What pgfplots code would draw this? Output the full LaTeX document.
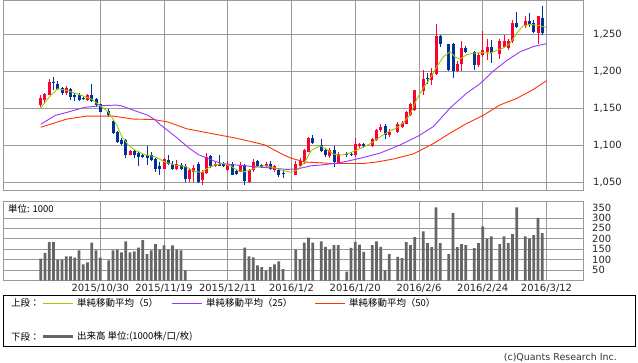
\documentclass[border=0pt]{standalone}
\usepackage{fontspec}
\setmainfont{DejaVu Sans}
\newfontfamily\jp{Noto Sans CJK JP}
\usepackage{pgfplots}
\pgfplotsset{compat=1.18}
\usepackage{pgfplotstable}

\definecolor{cred}{HTML}{FF0033}
\definecolor{cblue}{HTML}{003399}
\definecolor{maA}{HTML}{99CC00}
\definecolor{maB}{HTML}{9933FF}
\definecolor{maC}{HTML}{FF3300}
\definecolor{gridgray}{HTML}{999999}
\definecolor{volgray}{HTML}{666666}

\pgfplotstableread{
n o h l c
0 1154 1168 1152 1164
1 1161 1170 1156 1169
2 1168 1189 1167 1185
6 1170 1180 1168 1177
11 1161 1169 1159 1168
21 1087 1093 1086 1092
29 1068 1083 1067 1081
32 1068 1080 1066 1075
35 1054 1069 1050 1066
36 1063 1073 1050 1069
38 1053 1066 1046 1064
39 1062 1089 1061 1084
41 1071 1077 1070 1075
44 1066 1078 1065 1075
47 1064 1077 1063 1073
49 1050 1068 1049 1066
50 1066 1081 1064 1077
53 1071 1077 1069 1075
55 1066 1073 1064 1071
60 1060 1079 1059 1075
61 1072 1082 1070 1078
62 1077 1095 1074 1093
63 1091 1111 1090 1109
68 1085 1096 1083 1093
70 1076 1090 1075 1088
74 1086 1109 1084 1101
75 1098 1103 1096 1101
78 1098 1110 1097 1108
79 1107 1122 1106 1120
80 1120 1128 1118 1125
82 1113 1121 1111 1118
84 1118 1131 1116 1128
85 1124 1133 1123 1130
86 1129 1146 1128 1144
87 1141 1157 1139 1155
88 1147 1175 1146 1174
90 1173 1201 1168 1189
92 1188 1204 1181 1197
93 1196 1263 1195 1247
98 1200 1213 1198 1209
99 1209 1240 1200 1231
103 1208 1224 1206 1222
104 1222 1254 1219 1229
105 1226 1243 1215 1233
108 1223 1243 1216 1240
109 1233 1249 1231 1240
110 1231 1243 1229 1241
111 1240 1269 1238 1265
114 1261 1274 1258 1268
117 1251 1275 1237 1274
}\upcandles

\pgfplotstableread{
n o h l c
3 1185 1192 1174 1184
4 1183 1186 1174 1176
5 1177 1179 1168 1170
7 1176 1177 1161 1165
8 1167 1170 1159 1165
9 1168 1170 1159 1161
10 1164 1165 1161 1162
12 1167 1183 1158 1159
13 1162 1164 1152 1154
14 1155 1156 1144 1145
16 1146 1148 1138 1140
17 1132 1134 1115 1116
18 1117 1119 1103 1104
19 1107 1109 1100 1102
20 1107 1108 1082 1086
22 1092 1095 1082 1086
23 1089 1091 1072 1084
24 1087 1089 1082 1084
25 1087 1098 1073 1083
26 1087 1090 1078 1080
27 1081 1082 1064 1068
28 1071 1077 1060 1068
30 1080 1086 1073 1075
31 1075 1078 1066 1068
33 1073 1076 1066 1068
34 1072 1074 1050 1054
37 1075 1077 1048 1050
40 1085 1087 1069 1071
42 1074 1086 1071 1072
43 1075 1077 1070 1071
45 1075 1077 1059 1060
46 1065 1067 1060 1061
48 1073 1074 1046 1051
51 1078 1080 1070 1071
52 1073 1075 1069 1070
54 1075 1078 1066 1068
56 1066 1068 1057 1059
57 1062 1066 1056 1061
64 1109 1113 1102 1103
66 1100 1108 1091 1092
67 1093 1096 1084 1086
69 1093 1098 1070 1077
72 1088 1091 1084 1087
73 1088 1090 1085 1087
76 1101 1103 1096 1098
81 1126 1128 1108 1114
91 1190 1197 1183 1189
94 1247 1249 1233 1237
96 1236 1237 1200 1201
97 1236 1238 1191 1200
100 1231 1234 1224 1226
102 1226 1227 1201 1208
106 1233 1242 1211 1224
112 1265 1280 1258 1259
115 1268 1278 1260 1262
116 1265 1269 1251 1253
118 1271 1288 1249 1251
}\downcandles

\pgfplotstableread{
n v
0 105
1 132
2 184
3 184
4 100
5 100
6 116
7 116
8 110
9 145
10 77
11 87
12 181
13 145
14 110
16 97
17 145
18 148
19 135
20 187
21 135
22 140
23 158
24 194
25 126
26 145
27 174
28 148
29 168
30 148
31 168
32 148
33 145
34 48
48 158
49 116
50 111
51 73
52 64
53 48
54 64
55 77
56 92
57 55
60 148
61 102
62 181
63 205
64 181
66 188
67 161
68 147
69 169
70 169
72 42
73 156
74 185
75 172
76 137
78 169
79 188
80 161
81 50
82 126
84 113
85 107
86 184
87 169
88 208
90 236
91 179
92 160
93 351
94 179
96 126
97 323
98 160
99 174
100 169
102 155
103 179
104 260
105 201
106 211
108 174
109 212
110 179
111 222
112 351
114 212
115 201
116 217
117 300
118 227
}\volume

\begin{document}
\begin{tikzpicture}[x=1bp,y=1bp]
\useasboundingbox (0,0) rectangle (638,-362);

\pgfplotsset{
  candle wick/.style={draw=none, mark=none, forget plot,
    error bars/.cd, y dir=plus, y explicit, error mark=none,
    error bar style={draw=#1, line width=1bp}},
  candle body/.style={draw=none, mark=none, forget plot,
    error bars/.cd, y dir=plus, y explicit, error mark=none,
    error bar style={draw=#1, line width=3bp}},
}

% ---------------- price panel ----------------
\begin{axis}[
  at={(3bp,-0.7bp)}, anchor=north west, scale only axis,
  width=580bp, height=189.3bp,
  xmin=-8.882, xmax=127.588, ymin=1039.2, ymax=1295,
  axis line style={draw=gridgray, line width=0.8bp},
  xtick={14,29,...,119}, xticklabels={},
  ytick={1050,1100,...,1250},
  grid=major, major grid style={draw=gridgray, line width=0.8bp},
  major tick length=0pt,
  yticklabel pos=right,
  yticklabel style={anchor=west, inner sep=0pt, xshift=10bp, font=\fontsize{10}{12}\selectfont, text=black!85},
  /pgf/number format/.cd, 1000 sep={,}, assume math mode=true,
]
\addplot[candle wick=cred] table[x=n, y=l, y error expr=\thisrow{h}-\thisrow{l}] {\upcandles};
\addplot[candle body=cred] table[x=n, y=o, y error expr={max(\thisrow{c}-\thisrow{o},0.8)}] {\upcandles};
\addplot[candle wick=cblue] table[x=n, y=l, y error expr=\thisrow{h}-\thisrow{l}] {\downcandles};
\addplot[candle body=cblue] table[x=n, y=c, y error expr={max(\thisrow{o}-\thisrow{c},0.8)}] {\downcandles};

% 50-day moving average
\addplot[maC, line width=0.9bp, mark=none] coordinates {
(0,1124) (6.1,1135) (10.8,1139) (17.1,1139) (21.8,1135) (26.5,1134.5) (30,1131)
(34.3,1122) (40.6,1115) (45.3,1110) (50,1104) (52.8,1100) (54.7,1094) (57,1087)
(59,1082) (62.2,1077) (65.7,1076) (68.8,1075) (75.9,1075) (79,1077) (82.9,1081)
(87.7,1088) (92.4,1102) (96.3,1116) (100.2,1129) (104.1,1140) (108,1154)
(112,1163) (115.9,1175) (119,1187)};
% 25-day moving average
\addplot[maB, line width=0.9bp, mark=none] coordinates {
(0,1128) (3.4,1140) (6.1,1144) (10.4,1151) (14,1153) (17.7,1154) (19,1153)
(21.8,1147) (25.3,1140) (26.9,1134) (28,1128) (30,1119) (32,1110) (33.2,1104)
(35.1,1095) (37.1,1087) (41,1078) (42.6,1075) (46,1073) (50,1071) (54,1069)
(58,1067) (60.6,1068) (63.7,1072) (66,1073) (70.4,1076) (75.1,1082) (79.8,1089)
(84.5,1100) (88.8,1112) (92.4,1125) (96.3,1150) (100.2,1170) (103.4,1183)
(106.5,1200) (109.6,1214) (112.8,1226) (115.9,1233) (118.2,1236) (119,1237)};
% 5-day moving average
\addplot[maA, line width=0.9bp, mark=none] coordinates {
(0,1150) (2,1165) (4,1176) (6,1174) (9.6,1167) (12,1162) (14,1153) (16,1144)
(18,1126) (19,1112) (20.6,1100) (22.2,1093) (24.5,1087) (27,1084) (29.2,1077)
(31.6,1073) (34,1071) (36.3,1064) (37.9,1063) (39,1068) (41,1073) (42.9,1075)
(44.9,1071) (46.5,1065) (48,1064) (49.6,1067) (51.2,1071) (52.8,1072) (55.1,1069)
(56.7,1066) (59,1063) (60.6,1067) (62.2,1078) (63.7,1093) (65.7,1099) (67.3,1094)
(68.8,1088) (70.4,1086) (72,1088) (73.5,1091) (75.9,1097) (77.9,1103) (79.8,1111)
(81.8,1118) (83.7,1123) (85.3,1130) (86.9,1141) (88.4,1161) (90,1177) (91.6,1190)
(93.2,1206) (94.7,1219) (96.3,1226) (97.5,1219) (98.6,1216) (100.2,1222)
(101.8,1224) (103.7,1225) (105.7,1224) (107.3,1228) (108.8,1231) (110.4,1237)
(112,1251) (113.5,1261) (115.1,1263) (116.7,1262) (118.9,1259)};
\end{axis}

% ---------------- volume panel ----------------
\begin{axis}[
  at={(3bp,-201bp)}, anchor=north west, scale only axis,
  width=580bp, height=79.5bp,
  xmin=-8.882, xmax=127.588, ymin=0, ymax=381,
  axis line style={draw=gridgray, line width=0.8bp},
  xtick={14,29,...,119},
  xticklabels={2015/10/30,2015/11/19,2015/12/11,2016/1/2,2016/1/20,2016/2/6,2016/2/24,2016/3/12},
  xticklabel style={anchor=north, inner sep=0pt, yshift=-3.5bp, font=\fontsize{10}{12}\selectfont, text=black!85},
  ytick={50,100,...,300},
  extra y ticks={350}, extra y tick style={grid=none},
  grid=major, major grid style={draw=gridgray, line width=0.8bp},
  major tick length=0pt,
  yticklabel pos=right,
  yticklabel style={anchor=west, inner sep=0pt, xshift=9bp, font=\fontsize{10}{12}\selectfont, text=black!85},
  /pgf/number format/.cd, assume math mode=true,
]
\addplot[ybar, bar width=2.6bp, fill=volgray, draw=none] table[x=n, y=v] {\volume};
\end{axis}

\node[anchor=west, inner sep=0pt, font=\jp\fontsize{9.5}{11}\selectfont] at (8,-209) {単位: 1000};

% ---------------- legend ----------------
\draw[black, line width=1bp] (3.5,-295.5) rectangle (635.5,-346.5);
\begin{scope}[every node/.style={anchor=west, inner sep=0pt, font=\jp\fontsize{9.5}{11}\selectfont}]
\node at (11,-303.3) {上段：};
\draw[maA, line width=1bp] (43,-303.3) -- (73,-303.3);
\node at (77,-303.3) {単純移動平均（5）};
\draw[maB, line width=1bp] (172,-303.3) -- (202,-303.3);
\node at (206,-303.3) {単純移動平均（25）};
\draw[maC, line width=1bp] (315,-303.3) -- (345,-303.3);
\node at (349,-303.3) {単純移動平均（50）};
\node at (11,-336.7) {下段：};
\draw[volgray, line width=3bp] (43,-336.7) -- (73,-336.7);
\node at (77,-336.7) {出来高 単位:(1000株/口/枚)};
\end{scope}

\node[anchor=east, inner sep=0pt, font=\fontsize{9.5}{11}\selectfont, text=black!80] at (617,-358) {(c)Quants Research Inc.};
\end{tikzpicture}
\end{document}
